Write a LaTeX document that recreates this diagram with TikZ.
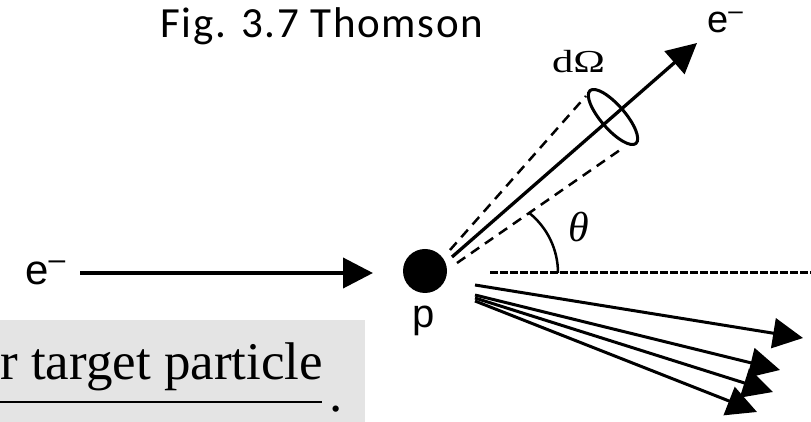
\documentclass[tikz,border=0pt]{standalone}
\usepackage{fontspec}
\setmainfont{Liberation Serif}
\newfontfamily\arialf{Liberation Sans}
\newfontfamily\calf[LetterSpace=4]{Carlito}
\usetikzlibrary{arrows.meta,shapes.geometric}
\definecolor{boxgray}{HTML}{E4E4E4}
\begin{document}
\begin{tikzpicture}[x=1pt,y=1pt,
  arr/.style={line width=3pt,-{Triangle[length=30pt,width=30pt]}},
  cone/.style={line width=2.5pt,dash pattern=on 10pt off 7pt},
  lbl/.style={inner sep=0pt,anchor=base west}]
\useasboundingbox (0,0) rectangle (811,422);
% grey box with text
\node[fill=boxgray, minimum width=365, minimum height=102, anchor=south west, inner sep=0] (box) at (0,0) {};
\node[lbl, font=\fontsize{53}{53}\selectfont] (den) at (0,42) {r target particle};
\coordinate (ul1) at (0,20);
\coordinate (ul2) at (322,20);
\draw[line width=2pt] (ul1) -- (ul2);
\node[lbl, font=\fontsize{53}{53}\selectfont] (period) at (329,10) {.};
% title
\node[lbl, font=\calf\fontsize{43}{43}\selectfont] (title) at (160,384) {Fig. 3.7 Thomson};
% proton
\node[circle, fill=black, minimum size=44, inner sep=0] (p) at (425,151) {};
\node[anchor=base, inner sep=0, font=\arialf\fontsize{40}{40}\selectfont] (plabel) at (424,94) {p};
% incoming electron
\node[lbl, font=\arialf\fontsize{42}{42}\selectfont] (ein) at (25,137) {e\raisebox{15pt}{\fontsize{30}{30}\selectfont –}};
\coordinate (inA) at (80,149);
\coordinate (inB) at (373,149);
\draw[arr, line width=4pt] (inA) -- (inB);
% outgoing electron
\node[lbl, font=\arialf\fontsize{38}{38}\selectfont] (eout) at (707,389) {e\raisebox{13pt}{\fontsize{26}{26}\selectfont –}};
\coordinate (o0) at (452,165);
\coordinate (o1) at (697,379);
\draw[arr, line width=3.3pt] (o0) -- (o1);
% cone
\coordinate (c1a) at (450,172);
\coordinate (c1b) at (586,326);
\coordinate (c2a) at (457,159);
\coordinate (c2b) at (620,272);
\draw[cone] (c1a) -- (c1b);
\draw[cone] (c2a) -- (c2b);
\node[ellipse, draw, line width=3pt, minimum width=70, minimum height=24, rotate=-49, inner sep=0] (dOmega) at (613,305) {};
\node[lbl, font=\fontsize{32}{32}\selectfont] (dOlabel) at (552,349) {\scalebox{1.33}[1]{dΩ}};
% angle
\coordinate (arcA) at (558,149);
\draw[line width=2.5pt] (arcA) arc[start angle=0, end angle=51, radius=77];
\node[lbl, font=\itshape\fontsize{42}{42}\selectfont] (theta) at (568,180) {θ};
\coordinate (hA) at (490,149);
\coordinate (hB) at (811,149);
\draw[line width=3pt, dash pattern=on 7.5pt off 2.5pt] (hA) -- (hB);
% scattered fan
\coordinate (s1) at (475,137);
\coordinate (s2) at (475,127);
\coordinate (s3) at (475,124);
\coordinate (s4) at (475,121);
\coordinate (t1) at (803,84);
\coordinate (t2) at (780,52);
\coordinate (t3) at (773,30);
\coordinate (t4) at (757,10);
\draw[arr] (s1) -- (t1);
\draw[arr] (s2) -- (t2);
\draw[arr] (s3) -- (t3);
\draw[arr] (s4) -- (t4);
\end{tikzpicture}
\end{document}
